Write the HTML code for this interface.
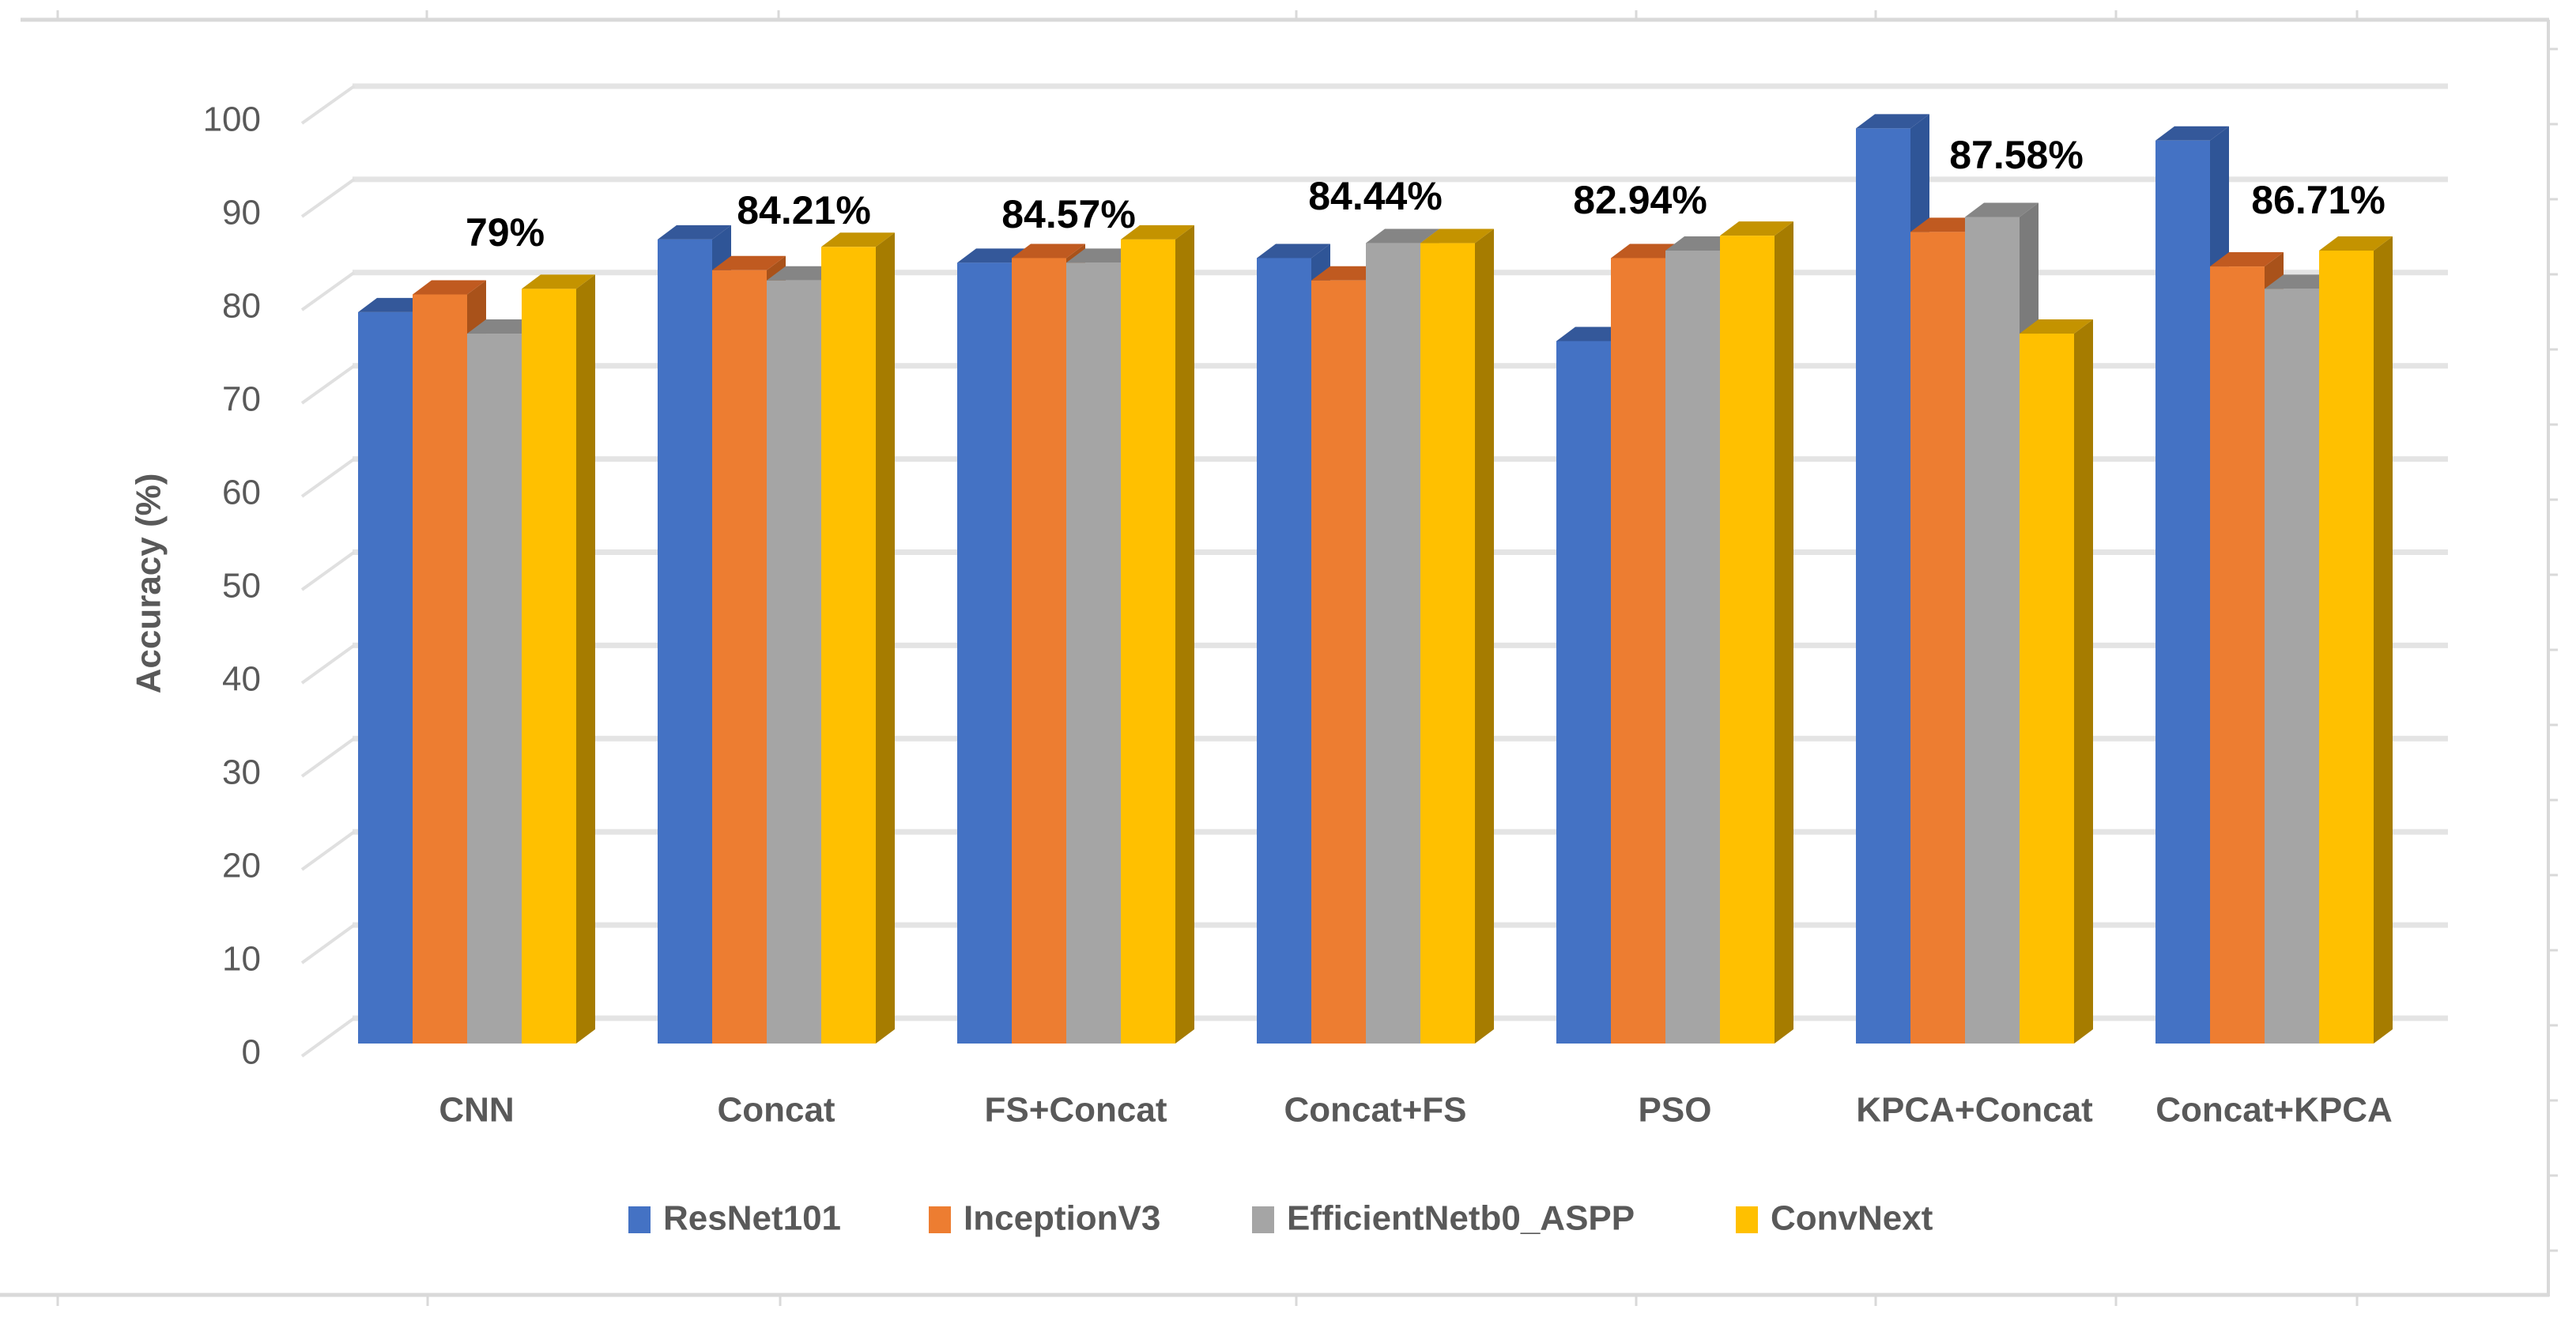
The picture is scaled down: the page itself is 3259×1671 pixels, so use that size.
<!DOCTYPE html>
<html><head><meta charset="utf-8"><style>
html,body{margin:0;padding:0;background:#fff;}
svg{display:block;font-family:"Liberation Sans",sans-serif;}
</style></head><body>
<svg id="chart" width="3259" height="1671" viewBox="0 0 3259 1671" xmlns="http://www.w3.org/2000/svg">
<g id="frame"></g>
<g id="grid"></g>
<g id="ylabels"></g>
<text x="191" y="738" transform="rotate(-90 191 738)" text-anchor="middle" dominant-baseline="middle" font-size="44" font-weight="bold" fill="#595959">Accuracy (%)</text>
<g id="bars"></g>
<g id="xlabels"></g>
<g id="dlabels"></g>
<g id="legend"></g>
</svg>
<script>
const categories = ["CNN","Concat","FS+Concat","Concat+FS","PSO","KPCA+Concat","Concat+KPCA"];
const seriesNames = ["ResNet101","InceptionV3","EfficientNetb0_ASPP","ConvNext"];
const resnet101 = [78.4,86.2,83.7,84.2,75.3,98.1,96.8];
const inceptionV3 = [80.3,82.9,84.2,81.8,84.2,87.0,83.3];
const efficientNet = [76.1,81.8,83.7,85.8,85.0,88.6,80.9];
const convNext = [80.9,85.4,86.2,85.8,86.6,76.1,85.0];
const dataLabels = ["79%","84.21%","84.57%","84.44%","82.94%","87.58%","86.71%"];
const yTicks = [0,10,20,30,40,50,60,70,80,90,100];

const series = [resnet101, inceptionV3, efficientNet, convNext];
const fronts = ["#4472C4","#ED7D31","#A5A5A5","#FFC000"];
const sides = ["#2F5597","#A9521A","#7B7B7B","#A67C00"];
const tops = ["#34589A","#C05A20","#858585","#C49300"];
const NS = "http://www.w3.org/2000/svg";
function el(tag, attrs, parent, txt){
  const e = document.createElementNS(NS, tag);
  for (const k in attrs) e.setAttribute(k, attrs[k]);
  if (txt !== undefined) e.textContent = txt;
  parent.appendChild(e); return e;
}
const s = 11.8;
function yBar(v){ return 1320 - v*s; }
function yBack(v){ return 1288 - v*11.79; }
function yLab(v){ return 1334 - v*11.8; }
const groupX0 = 453, groupStep = 379, barW = 69, dX = 24, dY = 18;
function xBar(i, j){ return groupX0 + i*groupStep + j*barW; }

// frame
const frame = document.getElementById('frame');
let f = el('line',{x1:26,y1:25,x2:3225,y2:25,stroke:'#d9d9d9','stroke-width':5},frame);
 
f = el('line',{x1:0,y1:1638,x2:3225,y2:1638,stroke:'#d9d9d9','stroke-width':5},frame);
 
f = el('line',{x1:3224,y1:25,x2:3224,y2:1640,stroke:'#d9d9d9','stroke-width':4},frame);
 
[73,540,985,1640,2070,2373,2677,2982].forEach(x=>{
  el('line',{x1:x,y1:25,x2:x,y2:13,stroke:'#d9d9d9','stroke-width':3},frame);
});
[73,541,987,1640,2070,2373,2677,2982].forEach(x=>{
  el('line',{x1:x,y1:1638,x2:x,y2:1652,stroke:'#d9d9d9','stroke-width':3},frame);
});
for (let y=62; y<1640; y+=95){
  el('line',{x1:3224,y1:y,x2:3236,y2:y,stroke:'#d9d9d9','stroke-width':3},frame);
}

// gridlines
const grid = document.getElementById('grid');
yTicks.forEach(v=>{
  const yb = yBack(v), yl = yLab(v)+2;
  const g1 = el('line',{x1:446,y1:yb,x2:3097,y2:yb,stroke:'#e4e4e4','stroke-width':7},grid);
   
  el('line',{x1:382,y1:yl,x2:448,y2:yb,stroke:'#e0e0e0','stroke-width':4},grid);
  const t = el('text',{x:330,y:yLab(v),'text-anchor':'end','dominant-baseline':'middle','font-size':44,fill:'#595959'},document.getElementById('ylabels'),String(v));
   
});

// bars
const bars = document.getElementById('bars');
categories.forEach((c,i)=>{
  series.forEach((ser,j)=>{
    const v = ser[i];
    const x0 = xBar(i,j), x1 = x0+barW, yt = yBar(v), yb = 1320;
    const g = el('g',{},bars);
    
    
    el('polygon',{points:`${x1},${yt} ${x1+dX},${yt-dY} ${x1+dX},${yb-dY} ${x1},${yb}`,fill:sides[j]},g);
    el('polygon',{points:`${x0},${yt} ${x0+dX},${yt-dY} ${x1+dX},${yt-dY} ${x1},${yt}`,fill:tops[j]},g);
    el('rect',{x:x0,y:yt,width:barW,height:yb-yt,fill:fronts[j]},g);
  });
  const xc = groupX0 + i*groupStep + 150;
  const xl = el('text',{x:xc,y:1407,'text-anchor':'middle','dominant-baseline':'middle','font-size':44,'font-weight':'bold',fill:'#595959'},document.getElementById('xlabels'),c);
   
});

// data labels (layout positions)
const dlX = [639,1017,1352,1740,2075,2551,2933];
const dlY = [298,270,275,252,257,200,257];
dataLabels.forEach((t,i)=>{
  const d = el('text',{x:dlX[i],y:dlY[i],'text-anchor':'middle','dominant-baseline':'middle','font-size':50,'font-weight':'bold',fill:'#000'},document.getElementById('dlabels'),t);
   
});

// legend
const legX = [795,1175,1584,2196];
const legend = document.getElementById('legend');
seriesNames.forEach((n,j)=>{
  const g = el('g',{},legend);
  
  
  el('rect',{x:legX[j],y:1526,width:28,height:34,fill:fronts[j]},g);
  el('text',{x:legX[j]+44,y:1544,'dominant-baseline':'middle','font-size':44,'font-weight':'bold',fill:'#595959'},g,n);
});
</script>
</body></html>
